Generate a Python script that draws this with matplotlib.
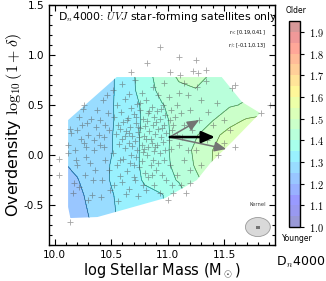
import numpy as np
import matplotlib.pyplot as plt
from matplotlib.patches import Polygon, Ellipse, Rectangle
from matplotlib.ticker import MultipleLocator, FormatStrFormatter

plt.rcParams['axes.unicode_minus'] = False
plt.rcParams['mathtext.fontset'] = 'cm'

# Dn4000 field (rows: overdensity, cols: stellar mass)
grid_mass = [10.05, 10.2, 10.35, 10.5, 10.65, 10.8, 10.95, 11.1, 11.25, 11.4, 11.55, 11.7, 11.85]
grid_od = [-0.7, -0.55, -0.4, -0.25, -0.1, 0.05, 0.2, 0.35, 0.5, 0.65, 0.8]
dn4000_grid = [
    [1.215, 1.23, 1.255, 1.29, 1.32, 1.335, 1.345, 1.37, 1.41, 1.45, 1.49, 1.52, 1.53],
    [1.22, 1.235, 1.26, 1.292, 1.322, 1.337, 1.347, 1.372, 1.42, 1.46, 1.50, 1.52, 1.53],
    [1.225, 1.24, 1.265, 1.295, 1.325, 1.34, 1.348, 1.375, 1.43, 1.465, 1.505, 1.525, 1.535],
    [1.235, 1.248, 1.27, 1.303, 1.33, 1.355, 1.375, 1.405, 1.44, 1.475, 1.51, 1.53, 1.54],
    [1.245, 1.258, 1.275, 1.302, 1.33, 1.36, 1.385, 1.415, 1.455, 1.502, 1.53, 1.54, 1.545],
    [1.26, 1.268, 1.28, 1.297, 1.33, 1.36, 1.385, 1.42, 1.46, 1.50, 1.53, 1.545, 1.55],
    [1.265, 1.272, 1.283, 1.297, 1.328, 1.36, 1.387, 1.415, 1.445, 1.485, 1.52, 1.535, 1.54],
    [1.265, 1.27, 1.28, 1.295, 1.325, 1.358, 1.39, 1.415, 1.435, 1.448, 1.48, 1.505, 1.515],
    [1.26, 1.245, 1.275, 1.295, 1.328, 1.36, 1.397, 1.42, 1.428, 1.435, 1.445, 1.455, 1.465],
    [1.26, 1.265, 1.275, 1.293, 1.33, 1.375, 1.415, 1.44, 1.448, 1.435, 1.43, 1.44, 1.45],
    [1.26, 1.265, 1.275, 1.293, 1.33, 1.38, 1.425, 1.458, 1.465, 1.445, 1.43, 1.44, 1.45],
]

# outline of the region where the map is drawn
mask_mass = [10.55, 11.48, 11.66, 11.82, 11.57, 11.38, 11.26, 10.98, 10.38, 10.14, 10.12, 10.12]
mask_od = [0.78, 0.78, 0.53, 0.42, 0.13, -0.08, -0.25, -0.43, -0.62, -0.63, -0.52, 0.35]

# satellites
left_mass = [10.04, 10.04, 10.14, 10.12, 10.15, 10.18, 10.20, 10.17, 10.22, 10.24,
             10.26, 10.28, 10.30, 10.22, 10.25, 10.26, 10.30, 10.33, 10.35, 10.37,
             10.36, 10.40, 10.42, 10.40, 10.44, 10.45, 10.47, 10.48, 10.49, 10.38,
             10.32, 10.43, 10.46, 10.20, 10.28, 10.34, 10.48, 10.41, 10.19, 10.12,
             10.35, 10.27, 10.45, 10.16, 10.23, 10.31, 10.39, 10.44, 10.14, 10.29]
left_od = [-0.04, -0.20, -0.67, 0.10, 0.22, 0.05, -0.10, -0.28, -0.32, 0.30,
           0.12, -0.02, 0.20, 0.38, 0.46, 0.50, -0.45, -0.40, 0.05, 0.28,
           -0.15, 0.10, -0.25, 0.35, 0.18, -0.05, 0.42, 0.25, -0.35, 0.45,
           0.36, 0.55, 0.60, 0.25, 0.08, -0.25, -0.15, -0.42, -0.05, 0.02,
           0.15, -0.20, 0.30, -0.38, 0.16, -0.08, 0.20, 0.08, 0.26, 0.32]
mid_mass = [10.52, 10.55, 10.53, 10.56, 10.54, 10.57, 10.52, 10.55, 10.58, 10.53, 10.56,
            10.60, 10.62, 10.59, 10.61, 10.63, 10.60, 10.62, 10.61, 10.64, 10.60, 10.63,
            10.66, 10.68, 10.65, 10.67, 10.69, 10.66, 10.68, 10.67, 10.70, 10.66, 10.68,
            10.71, 10.73, 10.70, 10.72, 10.74, 10.71, 10.73, 10.72, 10.75, 10.71, 10.74,
            10.77, 10.76, 10.78, 10.76, 10.79, 10.77, 10.78, 10.77, 10.80, 10.78,
            10.82, 10.81, 10.83, 10.82, 10.84, 10.81, 10.83, 10.82, 10.85, 10.83, 10.81,
            10.87, 10.86, 10.88, 10.87, 10.89, 10.86, 10.88, 10.87, 10.90, 10.88,
            10.92, 10.91, 10.93, 10.92, 10.94, 10.91, 10.93, 10.92, 10.95, 10.93,
            10.93, 10.97, 10.96, 10.98, 10.97, 10.99, 10.96, 10.98, 10.97, 10.99,
            11.02, 11.01, 11.03, 11.02, 11.04, 11.01, 11.03, 11.02, 11.04,
            10.58, 10.64, 10.69, 10.75, 10.80, 10.85, 10.90, 10.95, 10.62, 10.72,
            10.79, 10.84, 10.89, 10.58, 10.70, 10.76, 10.66, 10.94, 10.86, 10.74]
mid_od = [0.65, 0.50, 0.38, 0.30, 0.21, 0.11, 0.02, -0.10, -0.21, -0.30, -0.46,
          0.71, 0.56, 0.43, 0.33, 0.24, 0.16, 0.07, -0.04, -0.16, -0.27, -0.39,
          0.61, 0.47, 0.37, 0.28, 0.19, 0.12, 0.00, -0.08, -0.22, -0.34, 0.83,
          0.75, 0.51, 0.41, 0.32, 0.23, 0.14, 0.05, -0.02, -0.12, -0.25, -0.41,
          0.62, 0.45, 0.36, 0.27, 0.19, 0.10, 0.03, -0.06, -0.18, -0.30,
          0.92, 0.55, 0.42, 0.34, 0.24, 0.16, 0.08, 0.00, -0.10, -0.22, -0.35,
          0.68, 0.48, 0.38, 0.30, 0.21, 0.12, 0.04, -0.05, -0.15, -0.30,
          0.60, 0.44, 0.36, 0.26, 0.18, 0.10, 0.02, -0.08, -0.20, -0.38,
          1.08, 0.72, 0.50, 0.40, 0.30, 0.22, 0.13, 0.05, -0.05, -0.25,
          0.83, 0.58, 0.45, 0.35, 0.25, 0.15, 0.06, -0.10, -0.30,
          0.26, 0.35, 0.09, 0.18, 0.29, 0.16, 0.33, 0.27, 0.19, 0.38,
          0.06, 0.44, 0.08, -0.05, -0.10, 0.52, 0.22, 0.46, -0.20, 0.28]
right_mass = [11.10, 11.25, 11.23, 11.27, 11.34, 11.34, 11.60, 11.83, 11.91, 11.11,
              11.15, 11.08, 11.12, 11.15, 11.20, 11.18, 11.10, 11.30, 11.36, 11.44,
              11.57, 11.40, 11.50, 11.55, 11.10, 11.15, 11.20, 11.25, 11.08, 11.12,
              11.30, 11.35, 11.45, 11.50, 11.05, 11.22, 11.08, 11.26, 11.00, 11.05,
              11.16, 11.60, 11.13, 11.18, 11.07, 11.28, 11.20]
right_od = [0.98, 0.95, 0.84, 0.82, 0.85, 0.74, 0.70, 0.42, 0.50, 0.80,
            0.72, 0.50, 0.42, 0.30, 0.45, 0.60, 0.62, 0.55, 0.43, 0.52,
            0.67, 0.30, 0.35, 0.25, 0.10, -0.05, -0.15, 0.05, -0.20, -0.30,
            -0.10, 0.15, 0.00, 0.12, 0.30, 0.25, 0.20, 0.68, -0.45, -0.38,
            -0.38, 0.08, 0.18, 0.05, 0.38, 0.35, -0.28]

# gradient directions
arrow_start = (11.02, 0.18)
arrow_tip_mass = [11.42, 11.28, 11.52]
arrow_tip_od = [0.18, 0.35, 0.06]

fig = plt.figure(figsize=(3.26, 2.81), dpi=100)
ax = fig.add_axes([0.150, 0.128, 0.693, 0.854])
cax = fig.add_axes([0.887, 0.192, 0.034, 0.733])

M, D = np.meshgrid(grid_mass, grid_od)
Z = np.array(dn4000_grid)
levels = np.arange(1.0, 1.951, 0.05)
cf = ax.contourf(M, D, Z, levels=levels, cmap='jet', alpha=0.4, vmin=1.0, vmax=1.95)
cl = ax.contour(M, D, Z, levels=levels, colors='k', linewidths=0.5, alpha=0.5)
region = Polygon(np.column_stack([mask_mass, mask_od]), closed=True,
                 facecolor='none', edgecolor='none', transform=ax.transData)
ax.add_patch(region)
cf.set_clip_path(region)
cl.set_clip_path(region)

ax.scatter(left_mass + mid_mass + right_mass, left_od + mid_od + right_od,
           marker='+', s=14, c='0.35', alpha=0.55, linewidths=0.6, zorder=3)

ax.annotate('', xy=(arrow_tip_mass[0], arrow_tip_od[0]), xytext=arrow_start,
            arrowprops=dict(arrowstyle='-|>,head_length=0.8,head_width=0.35', color='k',
                            lw=1.8, shrinkA=0, shrinkB=0, mutation_scale=10), zorder=5)
for i in [1, 2]:
    ax.annotate('', xy=(arrow_tip_mass[i], arrow_tip_od[i]), xytext=arrow_start,
                arrowprops=dict(arrowstyle='-|>,head_length=0.7,head_width=0.3', color='0.45',
                                lw=1.1, shrinkA=0, shrinkB=0, mutation_scale=10), zorder=4)

# kernel
ax.add_patch(Ellipse((11.80, -0.72), 0.22, 0.19, facecolor='0.85', edgecolor='0.6', lw=0.6))
ax.add_patch(Rectangle((11.785, -0.735), 0.03, 0.03, facecolor='0.45', edgecolor='none'))
ax.text(11.875, -0.49, 'Kernel', fontsize=3.8, ha='right', va='center', color='0.25')

ax.text(11.87, 1.22, r'r$_\alpha$: [0.19,0.41]', fontsize=3.5, ha='right', va='center')
ax.text(11.87, 1.09, r'r$_\beta$: [-0.11,0.13]', fontsize=3.5, ha='right', va='center')
ax.text(10.03, 1.38, r'D$_n$4000: $UVJ$ star-forming satellites only', fontsize=7.8, va='center')

ax.set_xlim(9.95, 11.95)
ax.set_ylim(-0.9, 1.5)
ax.set_xticks([10.0, 10.5, 11.0, 11.5])
ax.set_yticks([-0.5, 0.0, 0.5, 1.0, 1.5])
ax.xaxis.set_minor_locator(MultipleLocator(0.1))
ax.yaxis.set_minor_locator(MultipleLocator(0.1))
ax.xaxis.set_major_formatter(FormatStrFormatter('%.1f'))
ax.yaxis.set_major_formatter(FormatStrFormatter('%.1f'))
ax.tick_params(which='both', direction='in', top=True, right=True, labelsize=7.5, width=0.8)
ax.tick_params(which='major', length=4)
ax.tick_params(which='minor', length=2)
for s in ax.spines.values():
    s.set_linewidth(1.0)
ax.set_xlabel(r'log Stellar Mass (M$_\odot$)', fontsize=10.5, labelpad=1)
ax.set_ylabel(r'Overdensity $\log_{10}(1+\delta)$', fontsize=11.5, labelpad=0)

cb = fig.colorbar(cf, cax=cax, ticks=np.arange(1.0, 1.91, 0.1))
cb.ax.yaxis.set_major_formatter(FormatStrFormatter('$%.1f$'))
cb.ax.tick_params(labelsize=7.5, length=3, width=0.8)
cb.outline.set_linewidth(1.0)
fig.text(0.907, 0.963, 'Older', fontsize=5.5, ha='center', va='center')
fig.text(0.912, 0.150, 'Younger', fontsize=5.5, ha='center', va='center')
fig.text(0.921, 0.066, r'D$_n$4000', fontsize=9, ha='center', va='center')

fig.savefig('out.png', dpi=100)
